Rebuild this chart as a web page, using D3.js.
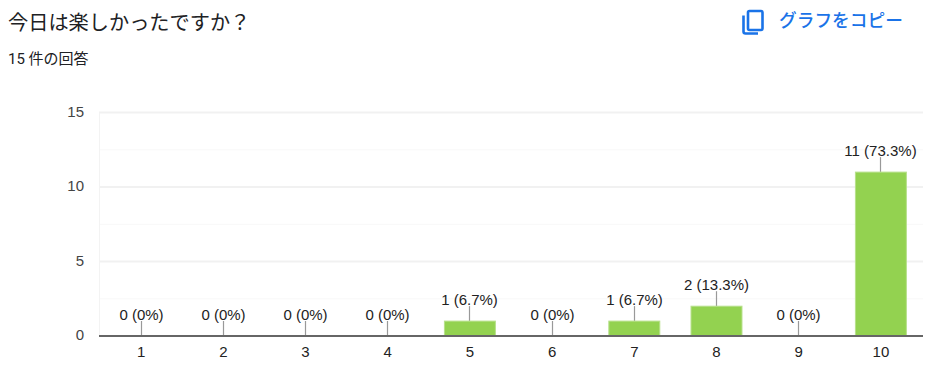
<!doctype html>
<html lang="ja">
<head>
<meta charset="utf-8">
<title>今日は楽しかったですか？</title>
<script src="https://cdnjs.cloudflare.com/ajax/libs/d3/7.8.5/d3.min.js"></script>
<style>
	html, body { margin: 0; padding: 0; background: #fff; }
	svg { display: block; }
	text { font-family: Roboto, "Noto Sans CJK JP", sans-serif; }
	.chart text { font-family: "Liberation Sans", Arial, sans-serif; }
</style>
</head>
<body>
<svg width="927" height="390" id="svg"></svg>
<script>
	var categories = ['1','2','3','4','5','6','7','8','9','10'];
	var counts = [0,0,0,0,1,0,1,2,0,11];
	var percents = ['0%','0%','0%','0%','6.7%','0%','6.7%','13.3%','0%','73.3%'];
	var yTicks = [0,5,10,15];
	var yMinorTicks = [2.5,7.5,12.5];

	var svg = d3.select('#svg');
	var chart = svg.append('g').attr('class','chart');

	var x = d3.scaleBand()
		.domain(categories)
		.range([100, 922])
		.paddingInner(0.38)
		.paddingOuter(0.19);

	var y = d3.scaleLinear()
		.domain([0,15])
		.range([336,112.5]);

	function center(i) {
		return Math.floor(x(categories[i]) + x.bandwidth()/2) + 0.5;
	}

	// title block
	svg.append('text')
		.attr('x',8).attr('y',30)
		.attr('font-size',20.2)
		.attr('fill','#202124')
		.text('今日は楽しかったですか？');

	svg.append('text')
		.attr('x',8).attr('y',64)
		.attr('font-size',15)
		.attr('fill','#202124')
		.text('15 件の回答');

	// copy button
	var icon = svg.append('g').attr('fill','none').attr('stroke','#1a73e8').attr('stroke-width',2.6);
	icon.append('rect').attr('x',748).attr('y',11).attr('width',14.5).attr('height',19).attr('rx',1.5);
	icon.append('path').attr('d','M743.5 15.5V31.5Q743.5 33.5 745.5 33.5H758');

	svg.append('text')
		.attr('x',779).attr('y',27)
		.attr('font-size',17.7)
		.attr('font-weight',500)
		.attr('fill','#1a73e8')
		.text('グラフをコピー');

	// grid
	chart.selectAll('.minor')
		.data(yMinorTicks)
		.enter()
		.append('line')
		.attr('class','minor')
		.attr('x1',99).attr('x2',923)
		.attr('y1',function(d) { return y(d); })
		.attr('y2',function(d) { return y(d); })
		.attr('stroke','#f8f8f8')
		.attr('stroke-width',1);

	chart.selectAll('.major')
		.data(yTicks.filter(function(d) { return d > 0; }))
		.enter()
		.append('line')
		.attr('class','major')
		.attr('x1',99).attr('x2',923)
		.attr('y1',function(d) { return y(d); })
		.attr('y2',function(d) { return y(d); })
		.attr('stroke','#f1f1f1')
		.attr('stroke-width',2);

	chart.append('line')
		.attr('x1',99.5).attr('x2',99.5)
		.attr('y1',y(15)).attr('y2',y(0))
		.attr('stroke','#f3f3f3')
		.attr('stroke-width',1);

	// y tick labels
	chart.selectAll('.ylabel')
		.data(yTicks)
		.enter()
		.append('text')
		.attr('class','ylabel')
		.attr('x',84)
		.attr('y',function(d) { return y(d) + 4; })
		.attr('text-anchor','end')
		.attr('font-size',15)
		.attr('fill','#444')
		.text(function(d) { return d; });

	// stems
	chart.selectAll('.stem')
		.data(counts)
		.enter()
		.append('line')
		.attr('class','stem')
		.attr('x1',function(d,i) { return center(i); })
		.attr('x2',function(d,i) { return center(i); })
		.attr('y1',function(d) { return y(d); })
		.attr('y2',function(d) { return y(d) - 15; })
		.attr('stroke','#999')
		.attr('stroke-width',1.2);

	// bars, zero counts keep an empty rect so the index still lines up
	chart.selectAll('.bar')
		.data(counts)
		.enter()
		.append('rect')
		.attr('class','bar')
		.attr('x',function(d,i) { return x(categories[i]); })
		.attr('y',function(d) { return y(d); })
		.attr('width',x.bandwidth())
		.attr('height',function(d) { return y(0) - y(d); })
		.attr('fill','#93d250')
		.attr('stroke',function(d) { return d > 0 ? '#b7e08b' : 'none'; })
		.attr('stroke-width',1);

	// value labels
	chart.selectAll('.vlabel')
		.data(counts)
		.enter()
		.append('text')
		.attr('class','vlabel')
		.attr('x',function(d,i) { return center(i); })
		.attr('y',function(d) { return y(d) - 16.5; })
		.attr('text-anchor','middle')
		.attr('font-size',15)
		.attr('fill','#222')
		.text(function(d,i) { return d + ' (' + percents[i] + ')'; });

	// baseline
	chart.append('line')
		.attr('x1',99).attr('x2',923)
		.attr('y1',y(0)).attr('y2',y(0))
		.attr('stroke','#666')
		.attr('stroke-width',2);

	// x tick labels
	chart.selectAll('.xlabel')
		.data(categories)
		.enter()
		.append('text')
		.attr('class','xlabel')
		.attr('x',function(d) { return x(d) + x.bandwidth()/2; })
		.attr('y',357)
		.attr('text-anchor','middle')
		.attr('font-size',15)
		.attr('fill','#222')
		.text(function(d) { return d; });
</script>
</body>
</html>
